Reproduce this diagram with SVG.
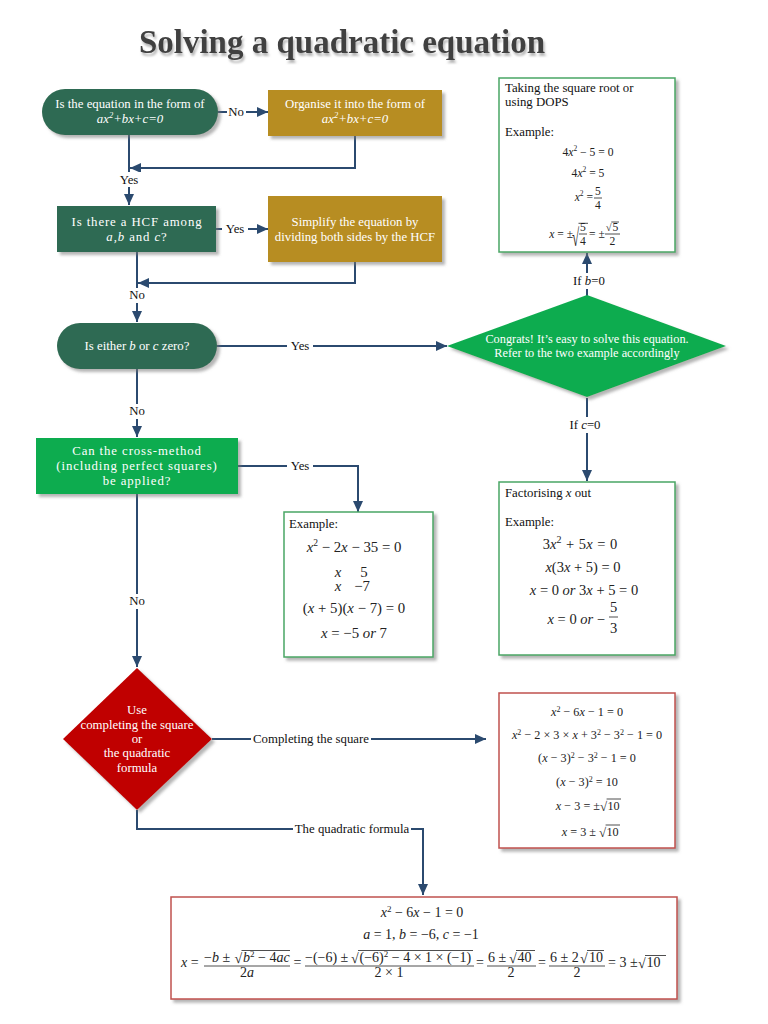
<svg xmlns="http://www.w3.org/2000/svg" width="768" height="1024" viewBox="0 0 768 1024">
<defs>
<filter id="sh" x="-10%" y="-10%" width="130%" height="140%">
<feDropShadow dx="3" dy="3" stdDeviation="1.5" flood-color="#777" flood-opacity="0.55"/>
</filter>
<filter id="tsh" x="-5%" y="-20%" width="110%" height="160%">
<feDropShadow dx="1.5" dy="3" stdDeviation="1.2" flood-color="#999" flood-opacity="0.7"/>
</filter>
<marker id="ah" markerUnits="userSpaceOnUse" markerWidth="11" markerHeight="10" refX="11" refY="5" orient="auto">
<path d="M0,0 L11,5 L0,10 z" fill="#2b4a6f"/>
</marker>
</defs>
<style>
text{font-family:"Liberation Serif","Times New Roman",serif}
.w{fill:#fff;font-size:12.8px}
.wd{fill:#fff;font-size:12.3px}
.ws{fill:#fff;font-size:12.8px;letter-spacing:0.9px}
.lbl{fill:#111;font-size:12.8px}
.t{fill:#111;font-size:12.8px}
.m{fill:#222;font-size:14.8px}
.mf{fill:#222;font-size:14.5px}
.ms{fill:#222;font-size:11.6px}
.mc{fill:#222;font-size:12.2px}
.mb{fill:#222;font-size:14px}
.i{font-style:italic}
.c{text-anchor:middle}
.e{text-anchor:end}
.cn{fill:none;stroke:#2b4a6f;stroke-width:2}
.bar{stroke:#222;stroke-width:0.8;fill:none}
.lb{fill:#fff}
</style>
<rect width="768" height="1024" fill="#fff"/>

<text x="342" y="53" class="c" font-size="33" font-weight="bold" fill="#404040" filter="url(#tsh)">Solving a quadratic equation</text>

<g id="connectors">
<path class="cn" d="M218,112 H268" marker-end="url(#ah)"/>
<rect class="lb" x="227" y="104" width="19" height="14"/>
<text class="lbl c" x="236" y="116">No</text>
<path class="cn" d="M355,136 V168 H130" marker-end="url(#ah)"/>
<path class="cn" d="M129,135 V205" marker-end="url(#ah)"/>
<rect class="lb" x="116" y="172" width="26" height="15"/>
<text class="lbl c" x="129" y="184">Yes</text>
<path class="cn" d="M216,229 H268" marker-end="url(#ah)"/>
<rect class="lb" x="222" y="222" width="26" height="14"/>
<text class="lbl c" x="235" y="233">Yes</text>
<path class="cn" d="M355,262 V283 H138" marker-end="url(#ah)"/>
<path class="cn" d="M137,252 V322" marker-end="url(#ah)"/>
<rect class="lb" x="125" y="288" width="24" height="15"/>
<text class="lbl c" x="137" y="299">No</text>
<path class="cn" d="M217,346 H447" marker-end="url(#ah)"/>
<rect class="lb" x="287" y="339" width="26" height="14"/>
<text class="lbl c" x="300" y="350">Yes</text>
<path class="cn" d="M137,369 V437" marker-end="url(#ah)"/>
<rect class="lb" x="125" y="404" width="24" height="15"/>
<text class="lbl c" x="137" y="415">No</text>
<path class="cn" d="M238,466 H358 V512" marker-end="url(#ah)"/>
<rect class="lb" x="287" y="459" width="26" height="14"/>
<text class="lbl c" x="300" y="470">Yes</text>
<path class="cn" d="M137,494 V667" marker-end="url(#ah)"/>
<rect class="lb" x="125" y="594" width="24" height="15"/>
<text class="lbl c" x="137" y="605">No</text>
<path class="cn" d="M587,296 V253" marker-end="url(#ah)"/>
<rect class="lb" x="570" y="273" width="36" height="16"/>
<text class="lbl c" x="589" y="285">If <tspan class="i">b</tspan>=0</text>
<path class="cn" d="M587,398 V481" marker-end="url(#ah)"/>
<rect class="lb" x="567" y="417" width="36" height="16"/>
<text class="lbl c" x="585" y="429">If <tspan class="i">c</tspan>=0</text>
<path class="cn" d="M212,739 H486" marker-end="url(#ah)"/>
<rect class="lb" x="251" y="732" width="120" height="15"/>
<text class="lbl c" x="311" y="743">Completing the square</text>
<path class="cn" d="M137,810 V829 H423 V895" marker-end="url(#ah)"/>
<rect class="lb" x="293" y="822" width="118" height="15"/>
<text class="lbl c" x="352" y="833">The quadratic formula</text>
</g>

<g id="n1">
<rect x="42" y="89" width="176" height="46" rx="23" fill="#2f6b52" filter="url(#sh)"/>
<text class="w c" x="130" y="108">Is the equation in the form of</text>
<text class="w c i" x="130" y="123">ax<tspan dy="-5" font-size="8.5">2</tspan><tspan dy="5">+bx+c=0</tspan></text>
</g>

<g id="n2">
<rect x="268" y="90" width="174" height="46" fill="#b78d22" filter="url(#sh)"/>
<text class="w c" x="355" y="108">Organise it into the form of</text>
<text class="w c i" x="355" y="123">ax<tspan dy="-5" font-size="8.5">2</tspan><tspan dy="5">+bx+c=0</tspan></text>
</g>

<g id="n3">
<rect x="57" y="206" width="159" height="46" fill="#2f6b52" filter="url(#sh)"/>
<text class="ws c" x="137" y="226">Is there a HCF among</text>
<text class="ws c" x="137" y="241"><tspan class="i">a</tspan>,<tspan class="i">b</tspan> and <tspan class="i">c</tspan>?</text>
</g>

<g id="n4">
<rect x="268" y="196" width="174" height="66" fill="#b78d22" filter="url(#sh)"/>
<text class="w c" x="355" y="226">Simplify the equation by</text>
<text class="w c" x="355" y="241">dividing both sides by the HCF</text>
</g>

<g id="n5">
<rect x="57" y="323" width="160" height="46" rx="23" fill="#2f6b52" filter="url(#sh)"/>
<text class="w c" x="137" y="350">Is either <tspan class="i">b</tspan> or <tspan class="i">c</tspan> zero?</text>
</g>

<g id="n6">
<rect x="36" y="438" width="202" height="56" fill="#0fac50" filter="url(#sh)"/>
<text class="ws c" x="137" y="455" letter-spacing="1">Can the cross-method</text>
<text class="ws c" x="137" y="470" letter-spacing="1">(including perfect squares)</text>
<text class="ws c" x="137" y="485" letter-spacing="1">be applied?</text>
</g>

<g id="n7">
<rect x="284" y="512" width="149" height="145" fill="#fff" stroke="#4aa665" stroke-width="1.5" filter="url(#sh)"/>
<text class="t" x="289" y="528">Example:</text>
<text class="m c" x="354" y="552"><tspan class="i">x</tspan><tspan dy="-6" font-size="9.5">2</tspan><tspan dy="6"> − 2</tspan><tspan class="i">x</tspan> − 35 = 0</text>
<text class="m i c" x="338" y="577">x</text>
<text class="m c" x="364" y="577">5</text>
<text class="m i c" x="338" y="591">x</text>
<text class="m c" x="362" y="591">−7</text>
<text class="m c" x="354" y="613">(<tspan class="i">x</tspan> + 5)(<tspan class="i">x</tspan> − 7) = 0</text>
<text class="m c" x="354" y="638"><tspan class="i">x</tspan> = −5 <tspan class="i">or</tspan> 7</text>
</g>

<g id="n8">
<path d="M587,295 L726,346 L587,397 L447,346 z" fill="#0fac50" filter="url(#sh)"/>
<text class="wd c" x="587" y="343">Congrats! It’s easy to solve this equation.</text>
<text class="wd c" x="587" y="357">Refer to the two example accordingly</text>
</g>

<g id="n9">
<rect x="499" y="78" width="176" height="174" fill="#fff" stroke="#4aa665" stroke-width="1.5" filter="url(#sh)"/>
<text class="t" x="505" y="92">Taking the square root or</text>
<text class="t" x="505" y="106">using DOPS</text>
<text class="t" x="505" y="136">Example:</text>
<text class="ms c" x="588" y="155.5">4<tspan class="i">x</tspan><tspan dy="-4.5" font-size="7.5">2</tspan><tspan dy="4.5"> − 5 = 0</tspan></text>
<text class="ms c" x="588" y="176.5">4<tspan class="i">x</tspan><tspan dy="-4.5" font-size="7.5">2</tspan><tspan dy="4.5"> = 5</tspan></text>
<text class="ms e" x="593" y="200.5"><tspan class="i">x</tspan><tspan dy="-4.5" font-size="7.5">2</tspan><tspan dy="4.5"> =</tspan></text>
<text class="ms c" x="598" y="194.5">5</text>
<path class="bar" d="M594,198 H602"/>
<text class="ms c" x="598" y="209">4</text>
<text class="ms e" x="573" y="238"><tspan class="i">x</tspan> = ±</text>
<text transform="translate(572,246) scale(1,1.9)" font-size="13" fill="#222">√</text>
<path class="bar" d="M578.5,223.3 H588"/>
<text class="ms c" x="583" y="231">5</text>
<path class="bar" d="M579,234 H587"/>
<text class="ms c" x="583" y="245">4</text>
<text class="ms" x="589" y="238">= ±</text>
<text x="606" y="231" font-size="10" fill="#222">√</text>
<path class="bar" d="M611.3,222 H619"/>
<text class="ms" x="612.5" y="231">5</text>
<path class="bar" d="M605,234 H620"/>
<text class="ms c" x="612.5" y="245">2</text>
</g>

<g id="n10">
<rect x="499" y="482" width="176" height="173" fill="#fff" stroke="#4aa665" stroke-width="1.5" filter="url(#sh)"/>
<text class="t" x="505" y="497">Factorising <tspan class="i">x</tspan> out</text>
<text class="t" x="505" y="526">Example:</text>
<text class="mf c" x="580" y="549" font-size="16" word-spacing="1">3<tspan class="i">x</tspan><tspan dy="-6.5" font-size="10">2</tspan><tspan dy="6.5"> + 5</tspan><tspan class="i">x</tspan> = 0</text>
<text class="mf c" x="583" y="572"><tspan class="i">x</tspan>(3<tspan class="i">x</tspan> + 5) = 0</text>
<text class="mf c" x="584" y="595"><tspan class="i">x</tspan> = 0 <tspan class="i">or</tspan> 3<tspan class="i">x</tspan> + 5 = 0</text>
<text class="mf e" x="605" y="624"><tspan class="i">x</tspan> = 0 <tspan class="i">or</tspan> −</text>
<text class="mf c" x="613.5" y="612">5</text>
<path class="bar" d="M609,617 H618"/>
<text class="mf c" x="613.5" y="633">3</text>
</g>

<g id="n11">
<path d="M137,668 L212,739 L137,810 L63,739 z" fill="#c00000" filter="url(#sh)"/>
<text class="w c" x="137" y="714">Use</text>
<text class="w c" x="137" y="729">completing the square</text>
<text class="w c" x="137" y="743">or</text>
<text class="w c" x="137" y="757">the quadratic</text>
<text class="w c" x="137" y="772">formula</text>
</g>

<g id="n12">
<rect x="499" y="693" width="176" height="155" fill="#fff" stroke="#c0504d" stroke-width="1.5" filter="url(#sh)"/>
<text class="mc c" x="587" y="716"><tspan class="i">x</tspan><tspan dy="-4.5" font-size="8">2</tspan><tspan dy="4.5"> − 6</tspan><tspan class="i">x</tspan> − 1 = 0</text>
<text class="mc c" x="587" y="739"><tspan class="i">x</tspan><tspan dy="-4.5" font-size="8">2</tspan><tspan dy="4.5"> − 2 × 3 × </tspan><tspan class="i">x</tspan> + 3<tspan dy="-4.5" font-size="8">2</tspan><tspan dy="4.5"> − 3</tspan><tspan dy="-4.5" font-size="8">2</tspan><tspan dy="4.5"> − 1 = 0</tspan></text>
<text class="mc c" x="587" y="762">(<tspan class="i">x</tspan> − 3)<tspan dy="-4.5" font-size="8">2</tspan><tspan dy="4.5"> − 3</tspan><tspan dy="-4.5" font-size="8">2</tspan><tspan dy="4.5"> − 1 = 0</tspan></text>
<text class="mc c" x="587" y="786">(<tspan class="i">x</tspan> − 3)<tspan dy="-4.5" font-size="8">2</tspan><tspan dy="4.5"> = 10</tspan></text>
<text class="mc e" x="600" y="810"><tspan class="i">x</tspan> − 3 = ±</text>
<text x="600" y="811" font-size="13" fill="#222">√</text>
<path class="bar" d="M606.6,799 H621"/>
<text class="mc" x="607.5" y="810">10</text>
<text class="mc e" x="596" y="836"><tspan class="i">x</tspan> = 3 ±</text>
<text x="599" y="837" font-size="13" fill="#222">√</text>
<path class="bar" d="M605.6,825 H620"/>
<text class="mc" x="606.5" y="836">10</text>
</g>

<g id="n13">
<rect x="171" y="897" width="506" height="102" fill="#fff" stroke="#c0504d" stroke-width="1.5" filter="url(#sh)"/>
<text class="mb c" x="422" y="917"><tspan class="i">x</tspan><tspan dy="-5.5" font-size="9">2</tspan><tspan dy="5.5"> − 6</tspan><tspan class="i">x</tspan> − 1 = 0</text>
<text class="mb c" x="421" y="938.5" font-size="13.5"><tspan class="i">a</tspan> = 1, <tspan class="i">b</tspan> = −6, <tspan class="i">c</tspan> = −1</text>
<text class="mb" x="181" y="967"><tspan class="i">x</tspan> =</text>
<text class="mb" x="204" y="962">−<tspan class="i">b</tspan> ±</text>
<text x="234.5" y="963" font-size="14" fill="#222">√</text>
<path class="bar" d="M241.5,950.5 H290"/>
<text class="mb" x="243" y="962"><tspan class="i">b</tspan><tspan dy="-5.5" font-size="9">2</tspan><tspan dy="5.5"> − 4</tspan><tspan class="i">ac</tspan></text>
<path class="bar" d="M204,966 H290"/>
<text class="mb c" x="247" y="977">2<tspan class="i">a</tspan></text>
<text class="mb c" x="297.5" y="967">=</text>
<text class="mb" x="305" y="962">−(−6) ±</text>
<text x="351" y="963" font-size="14" fill="#222">√</text>
<path class="bar" d="M358,950.5 H473"/>
<text class="mb" x="359.5" y="962">(−6)<tspan dy="-5.5" font-size="9">2</tspan><tspan dy="5.5"> − 4 × 1 × (−1)</tspan></text>
<path class="bar" d="M305,966 H474"/>
<text class="mb c" x="389" y="977">2 × 1</text>
<text class="mb c" x="480" y="967">=</text>
<text class="mb" x="488" y="962">6 ±</text>
<text x="509" y="963" font-size="14" fill="#222">√</text>
<path class="bar" d="M516,950.5 H535"/>
<text class="mb" x="517.5" y="962">40</text>
<path class="bar" d="M487,966 H536"/>
<text class="mb c" x="511" y="977">2</text>
<text class="mb c" x="542" y="967">=</text>
<text class="mb" x="550" y="962">6 ± 2</text>
<text x="580" y="963" font-size="14" fill="#222">√</text>
<path class="bar" d="M587,950.5 H604"/>
<text class="mb" x="589" y="962">10</text>
<path class="bar" d="M549,966 H605"/>
<text class="mb c" x="577" y="977">2</text>
<text class="mb" x="608" y="967">= 3 ±</text>
<text x="638" y="968" font-size="14" fill="#222">√</text>
<path class="bar" d="M645,955.5 H666"/>
<text class="mb" x="646.5" y="967">10</text>
</g>
</svg>
